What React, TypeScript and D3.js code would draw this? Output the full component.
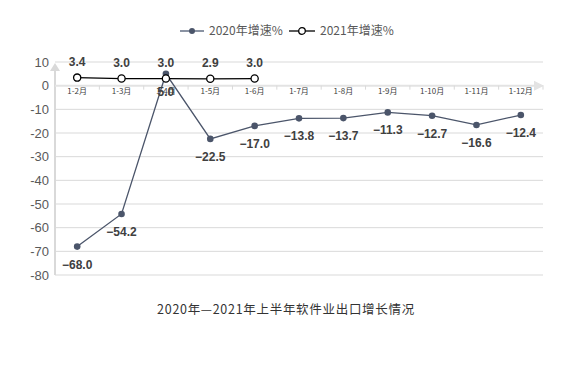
import React, { useEffect, useRef } from 'react';
import * as d3 from 'd3';

const months = ['1-2月', '1-3月', '1-4月', '1-5月', '1-6月', '1-7月', '1-8月', '1-9月', '1-10月', '1-11月', '1-12月'];
const growth2020 = [-68.0, -54.2, 5.0, -22.5, -17.0, -13.8, -13.7, -11.3, -12.7, -16.6, -12.4];
const growth2021 = [3.4, 3.0, 3.0, 2.9, 3.0];
const yTicks = [10, 0, -10, -20, -30, -40, -50, -60, -70, -80];
const seriesNames = ['2020年增速%', '2021年增速%'];
const title = '2020年—2021年上半年软件业出口增长情况';

const fmt = (v: number) => (v < 0 ? '−' : '') + Math.abs(v).toFixed(1);

const App = () => {
  const svgRef = useRef<SVGSVGElement | null>(null);

  useEffect(() => {
    const width = 577;
    const height = 365;
    const margin = { left: 55, right: 34, top: 62, bottom: 90 };
    const lineColor = '#4b556a';

    const svg = d3.select(svgRef.current).attr('width', width).attr('height', height);
    svg.selectAll('*').remove();

    const x = d3.scaleBand<string>()
      .domain(months)
      .range([margin.left, width - margin.right]);

    const y = d3.scaleLinear()
      .domain([-80, 10])
      .range([height - margin.bottom, margin.top]);

    const cx = (m: string) => (x(m) as number) + x.bandwidth() / 2;

    // gridlines
    svg.append('g')
      .selectAll('line')
      .data(yTicks.filter(t => t !== 0))
      .enter()
      .append('line')
      .attr('x1', margin.left)
      .attr('x2', width - margin.right)
      .attr('y1', d => y(d))
      .attr('y2', d => y(d))
      .attr('stroke', '#d9d9d9')
      .attr('stroke-width', 1);

    // y tick labels
    svg.append('g')
      .selectAll('text')
      .data(yTicks)
      .enter()
      .append('text')
      .attr('x', margin.left - 6)
      .attr('y', d => y(d))
      .attr('dy', '0.35em')
      .attr('text-anchor', 'end')
      .attr('font-family', 'Liberation Sans, Arial, sans-serif')
      .attr('font-size', 13)
      .attr('fill', '#595959')
      .text(d => d);

    // y axis with arrow
    svg.append('line')
      .attr('x1', margin.left).attr('x2', margin.left)
      .attr('y1', y(-80)).attr('y2', y(10) + 6)
      .attr('stroke', '#d9d9d9').attr('stroke-width', 2);
    svg.append('path')
      .attr('d', `M${margin.left - 5},${y(10) + 9} L${margin.left},${y(10) + 1} L${margin.left + 5},${y(10) + 9} Z`)
      .attr('fill', '#d9d9d9');

    // x axis at zero with arrow
    const x0 = y(0);
    const xEnd = width - margin.right;
    svg.append('line')
      .attr('x1', margin.left).attr('x2', xEnd - 4)
      .attr('y1', x0).attr('y2', x0)
      .attr('stroke', '#e3e3e3').attr('stroke-width', 2);
    svg.append('path')
      .attr('d', `M${xEnd - 9},${x0 - 5} L${xEnd + 1},${x0} L${xEnd - 9},${x0 + 5} Z`)
      .attr('fill', '#e3e3e3');
    svg.append('g')
      .selectAll('line')
      .data(months)
      .enter()
      .append('line')
      .attr('x1', d => (x(d) as number) + x.bandwidth())
      .attr('x2', d => (x(d) as number) + x.bandwidth())
      .attr('y1', x0).attr('y2', x0 + 4)
      .attr('stroke', '#d9d9d9');
    svg.append('g')
      .selectAll('text')
      .data(months)
      .enter()
      .append('text')
      .attr('x', d => cx(d))
      .attr('y', x0 + 8)
      .attr('text-anchor', 'middle')
      .attr('font-family', 'Noto Sans CJK SC, sans-serif')
      .attr('font-size', 8)
      .attr('fill', '#404040')
      .text(d => d);

    // 2020 series
    const line = d3.line<number>()
      .x((_, i) => cx(months[i]))
      .y(d => y(d));

    svg.append('path')
      .datum(growth2020)
      .attr('d', line)
      .attr('fill', 'none')
      .attr('stroke', lineColor)
      .attr('stroke-width', 1.3);
    svg.append('g')
      .selectAll('circle')
      .data(growth2020)
      .enter()
      .append('circle')
      .attr('cx', (_, i) => cx(months[i]))
      .attr('cy', d => y(d))
      .attr('r', 3.3)
      .attr('fill', lineColor);

    // 2021 series
    svg.append('path')
      .datum(growth2021)
      .attr('d', line)
      .attr('fill', 'none')
      .attr('stroke', '#000')
      .attr('stroke-width', 1.3);
    svg.append('g')
      .selectAll('circle')
      .data(growth2021)
      .enter()
      .append('circle')
      .attr('cx', (_, i) => cx(months[i]))
      .attr('cy', d => y(d))
      .attr('r', 3.6)
      .attr('fill', '#fff')
      .attr('stroke', '#000')
      .attr('stroke-width', 1.3);

    // data labels
    const labelFont = 'Liberation Sans, Arial, sans-serif';
    svg.append('g')
      .selectAll('text')
      .data(growth2020)
      .enter()
      .append('text')
      .attr('x', (_, i) => cx(months[i]))
      .attr('y', d => y(d) + 22)
      .attr('text-anchor', 'middle')
      .attr('font-family', labelFont)
      .attr('font-weight', 'bold')
      .attr('font-size', 12)
      .attr('fill', '#404040')
      .text(d => fmt(d));
    svg.append('g')
      .selectAll('text')
      .data(growth2021)
      .enter()
      .append('text')
      .attr('x', (_, i) => cx(months[i]))
      .attr('y', d => y(d) - 12)
      .attr('text-anchor', 'middle')
      .attr('font-family', labelFont)
      .attr('font-weight', 'bold')
      .attr('font-size', 12)
      .attr('fill', '#404040')
      .text(d => fmt(d));

    // legend
    const legend = svg.append('g').attr('transform', 'translate(0,31)');
    legend.append('line').attr('x1', 180).attr('x2', 204).attr('y1', 0).attr('y2', 0)
      .attr('stroke', '#8a93a3').attr('stroke-width', 2);
    legend.append('circle').attr('cx', 192).attr('cy', 0).attr('r', 3).attr('fill', lineColor);
    legend.append('text').attr('x', 209).attr('y', 0).attr('dy', '0.35em')
      .attr('font-family', 'Noto Sans CJK SC, sans-serif').attr('font-size', 12)
      .attr('fill', '#595959').text(seriesNames[0]);
    legend.append('line').attr('x1', 289).attr('x2', 315).attr('y1', 0).attr('y2', 0)
      .attr('stroke', '#000').attr('stroke-width', 1.3);
    legend.append('circle').attr('cx', 302).attr('cy', 0).attr('r', 3.3)
      .attr('fill', '#fff').attr('stroke', '#000').attr('stroke-width', 1.3);
    legend.append('text').attr('x', 320).attr('y', 0).attr('dy', '0.35em')
      .attr('font-family', 'Noto Sans CJK SC, sans-serif').attr('font-size', 12)
      .attr('fill', '#595959').text(seriesNames[1]);

    // title
    svg.append('text')
      .attr('x', 286)
      .attr('y', 310)
      .attr('dy', '0.35em')
      .attr('text-anchor', 'middle')
      .attr('font-family', 'Noto Sans CJK SC, sans-serif')
      .attr('font-size', 12.5)
      .attr('letter-spacing', 0.7)
      .attr('fill', '#333')
      .text(title);
  }, []);

  return (
    <div style={{ position: 'absolute', left: 0, top: 0, background: '#fff' }}>
      <svg ref={svgRef} width={577} height={365}></svg>
    </div>
  );
};

export default App;
